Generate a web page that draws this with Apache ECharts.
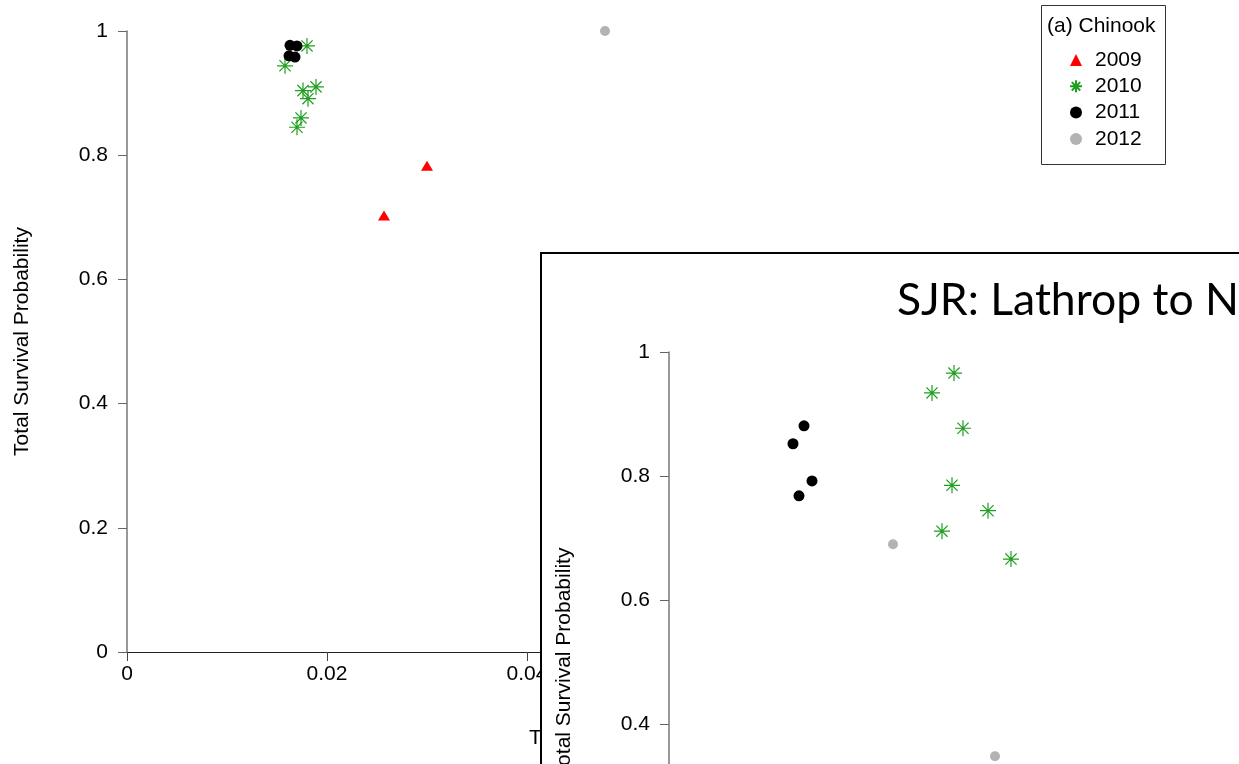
<!DOCTYPE html>
<html>
<head>
<meta charset="utf-8">
<script src="https://cdn.jsdelivr.net/npm/echarts@6/dist/echarts.min.js"></script>
<style>
  html, body { margin: 0; padding: 0; background: #fff; overflow: hidden; }
  #wrap { width: 1239px; height: 764px; overflow: hidden; position: relative; }
  /* the chart canvas is larger than the window: the inset runs off the edge like the reference */
  #chart { width: 1700px; height: 1100px; }
</style>
</head>
<body>
<div id="wrap"><div id="chart"></div></div>
<script>
// 年份 / 图例
const years = ["2009", "2010", "2011", "2012"];
const yTicks = [0, 0.2, 0.4, 0.6, 0.8, 1];

// main panel (a) Chinook: [x, survival]
const main2009 = [[0.0300, 0.783], [0.0257, 0.703]];
const main2010 = [[0.0180, 0.976], [0.0158, 0.944], [0.0176, 0.904], [0.0189, 0.910],
                  [0.0181, 0.891], [0.0174, 0.860], [0.0170, 0.845]];
const main2011 = [[0.0163, 0.977], [0.0170, 0.976], [0.0162, 0.960], [0.0168, 0.958]];
const main2012 = [[0.0478, 1.0]];

// inset panel: SJR Lathrop
const inset2010 = [[0.0285, 0.966], [0.0263, 0.934], [0.0294, 0.877], [0.0283, 0.785],
                   [0.0319, 0.744], [0.0273, 0.711], [0.0342, 0.666]];
const inset2011 = [[0.0135, 0.881], [0.0124, 0.852], [0.0143, 0.792], [0.0130, 0.768]];
const inset2012 = [[0.0224, 0.690], [0.0326, 0.348]];

const FONT = '"Liberation Sans", Arial, sans-serif';
const STAR = "path://M0,5L10,5M5,0L5,10M1.5,1.5L8.5,8.5M1.5,8.5L8.5,1.5";

const yearStyle = {
  "2009": { symbol: "triangle", symbolSize: [12, 10], itemStyle: { color: "#ff0000", opacity: 1 } },
  "2010": { symbol: STAR, symbolSize: 16, itemStyle: { color: "rgba(0,0,0,0)", borderColor: "#1f9e1f", borderWidth: 1.2, opacity: 1 } },
  "2011": { symbol: "circle", symbolSize: 11, itemStyle: { color: "#000000", opacity: 1 } },
  "2012": { symbol: "circle", symbolSize: 10, itemStyle: { color: "#b3b3b3", opacity: 1 } },
};

function scatter(name, data, idx, z) {
  return Object.assign({
    type: "scatter",
    name: name,
    data: data,
    xAxisIndex: idx,
    yAxisIndex: idx,
    z: z,
    emphasis: { disabled: true },
  }, yearStyle[name]);
}

function yAxisOpt(idx, z) {
  return {
    type: "value",
    gridIndex: idx,
    min: 0, max: 1, interval: 0.2,
    z: z,
    name: "Total Survival Probability",
    nameLocation: "middle",
    nameGap: 94,
    nameTextStyle: { fontFamily: FONT, fontSize: 21, color: "#000" },
    axisLine: { show: true, lineStyle: { color: "#777", width: 1.5 } },
    axisTick: { show: true, length: 9, lineStyle: { color: "#666" } },
    axisLabel: {
      margin: 19, fontFamily: FONT, fontSize: 21, color: "#000",
      formatter: v => (yTicks.indexOf(v) >= 0 ? String(v) : ""),
    },
    splitLine: { show: false },
  };
}

const chart = echarts.init(document.getElementById("chart"));
chart.setOption({
  animation: false,
  backgroundColor: "#fff",
  grid: [
    { left: 127, top: 31, width: 1000, height: 621, show: false },
    { left: 669, top: 352, width: 1000, height: 620, show: false },
  ],
  xAxis: [
    {
      type: "value", gridIndex: 0, min: 0, max: 0.1, interval: 0.02,
      axisLine: { show: true, onZero: false, lineStyle: { color: "#222", width: 1 } },
      axisTick: { show: true, length: 9, lineStyle: { color: "#444" } },
      axisLabel: {
        margin: 12, fontFamily: FONT, fontSize: 21, color: "#000",
        formatter: v => String(v),
      },
      splitLine: { show: false },
    },
    {
      type: "value", gridIndex: 1, min: 0, max: 0.1, interval: 0.02, z: 60,
      axisLine: { show: true, onZero: false, lineStyle: { color: "#222" } },
      axisTick: { show: true },
      axisLabel: { fontFamily: FONT, fontSize: 21, color: "#000" },
      splitLine: { show: false },
    },
  ],
  yAxis: [yAxisOpt(0, 0), yAxisOpt(1, 60)],
  legend: {
    data: years,
    orient: "vertical",
    left: 1069,
    top: 49,
    padding: 0,
    itemWidth: 12,
    itemHeight: 12,
    itemGap: 4.3,
    textStyle: { fontFamily: FONT, fontSize: 21, color: "#000", lineHeight: 22, padding: [0, 0, 0, 8] },
    selectedMode: false,
  },
  graphic: [
    {
      type: "text", x: 529, y: 738, z: 1,
      style: { text: "Total Export Rate", font: "21px " + FONT, fill: "#000", verticalAlign: "middle" },
    },
    {
      type: "rect", z: 10,
      shape: { x: 1041.5, y: 5.5, width: 124, height: 159 },
      style: { fill: "none", stroke: "#333", lineWidth: 1 },
    },
    {
      type: "text", x: 1047, y: 26, z: 10,
      style: { text: "(a) Chinook", font: "21px " + FONT, fill: "#000", verticalAlign: "middle" },
    },
    {
      type: "rect", z: 50,
      shape: { x: 541, y: 253, width: 1200, height: 900 },
      style: { fill: "#fff", stroke: "#000", lineWidth: 2 },
    },
    {
      type: "text", x: 897, y: 301, z: 70,
      style: { text: "SJR: Lathrop to Navy Bridge", font: "44.5px Lato, sans-serif", fill: "#000", verticalAlign: "middle" },
    },
  ],
  series: [
    scatter("2009", main2009, 0, 2),
    scatter("2010", main2010, 0, 2),
    scatter("2011", main2011, 0, 2),
    scatter("2012", main2012, 0, 2),
    scatter("2010", inset2010, 1, 60),
    scatter("2011", inset2011, 1, 60),
    scatter("2012", inset2012, 1, 60),
  ],
});
</script>
</body>
</html>
